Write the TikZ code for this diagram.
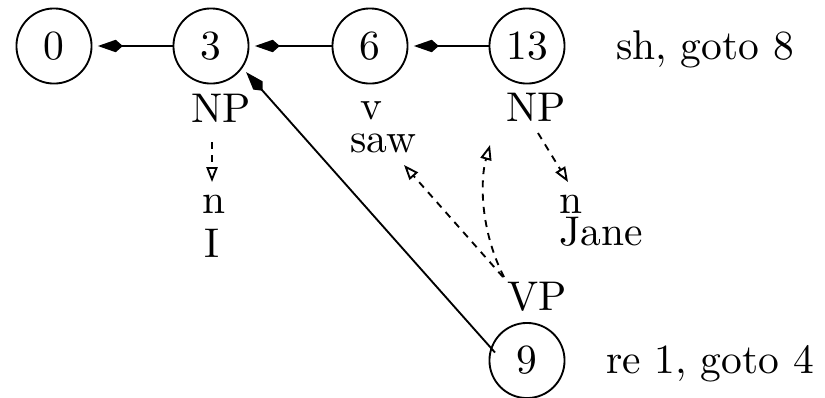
\documentclass[tikz,border=0pt]{standalone}
\usetikzlibrary{arrows.meta}
\begin{document}
\begin{tikzpicture}[x=0.241pt,y=-0.241pt,line width=0.45pt,
  state/.style={circle,draw,minimum size=18.1pt,inner sep=0pt},
  lbl/.style={anchor=base,inner sep=0pt},
  link/.style={-{Kite[length=6pt,width=3pt,inset=1.7pt]},shorten >=1.3pt},
  tree/.style={-{Triangle[open,length=3.6pt,width=2.7pt]},dash pattern=on 1.7pt off 1.5pt}]
\useasboundingbox (0,0) rectangle (825,397);
% stack states
\node[state] (s0) at (54,46) {0};
\node[state] (s3) at (211,46) {3};
\node[state] (s6) at (370,46) {6};
\node[state] (s13) at (527,46) {13};
\node[state] (s9) at (527,360.5) {9};
% actions
\node[lbl] (act1) at (705,59) {sh, goto 8};
\node[lbl] (act2) at (710,373) {re 1, goto 4};
% symbols on the links
\node[lbl] (np1) at (221,122) {NP};
\node[lbl] (v) at (371,119) {v};
\node[lbl] (saw) at (383,152) {saw};
\node[lbl] (np2) at (536,121) {NP};
\node[lbl] (n1) at (214,213) {n};
\node[lbl] (i) at (211.5,257) {I};
\node[lbl] (n2) at (571,213) {n};
\node[lbl] (jane) at (601,245) {Jane};
\node[lbl] (vp) at (537,310) {VP};
% stack links
\draw[link] (s3) -- (s0);
\draw[link] (s6) -- (s3);
\draw[link] (s13) -- (s6);
\draw[link] ([shift={(-32,-8)}]s9.center) -- (s3.-35);
% tree links
\draw[tree] ([shift={(-9,20)}]np1.base) -- ([shift={(-2,-31)}]n1.base);
\draw[tree] ([shift={(2,12)}]np2.base) -- ([shift={(-3,-31)}]n2.base);
\draw[tree] ([shift={(-34,-33)}]vp.base) -- ([shift={(21,13)}]saw.base);
\draw[tree] ([shift={(-33,-33)}]vp.base) .. controls (480,230) and (480,180) .. ([shift={(-46,24)}]np2.base);
\end{tikzpicture}
\end{document}
